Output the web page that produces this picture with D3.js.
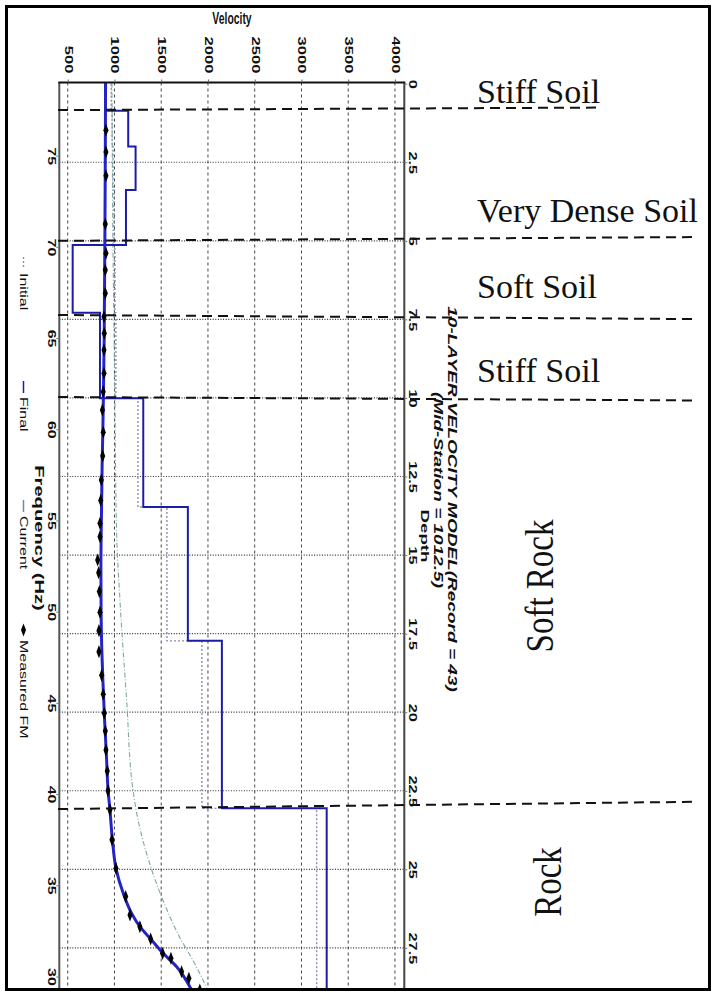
<!DOCTYPE html>
<html>
<head>
<meta charset="utf-8">
<script src="https://cdn.jsdelivr.net/npm/d3@7"></script>
<style>
  body { margin: 0; background: #fff; }
  svg { display: block; }
</style>
</head>
<body>
<svg id="chart" width="713" height="993"></svg>
<script>
// ---- axis ticks ----
const velocityTicks = [500, 1000, 1500, 2000, 2500, 3000, 3500, 4000];
const depthTicks = [0, 2.5, 5, 7.5, 10, 12.5, 15, 17.5, 20, 22.5, 25, 27.5];
const freqTicks = [75, 70, 65, 60, 55, 50, 45, 40, 35, 30];

// ---- 10-layer shear-wave velocity model (depth in m, velocity in m/s) ----
const layerTops = [0, 0.86, 2.0, 3.38, 5.13, 7.29, 10.01, 13.47, 17.73, 23.06];
const modelBottom = 28.84;
const finalVs = [900, 1147, 1226, 1123, 553, 845, 1308, 1785, 2149, 3270];
const initialVs = [965, 975, 985, 995, 1005, 1015, 1251, 1561, 1935, 3162];

// ---- measured fundamental-mode dispersion (Hz, m/s) ----
const measuredFreq = [76.4, 75.2, 73.9, 71.25, 69.65, 68.73, 67.46, 66.17, 65.26, 64.35, 63.07, 62.06,
  61.05, 59.84, 58.54, 57.22, 56.1, 54.85, 54.11, 52.83, 52.14, 51.1, 49.97, 48.96, 47.81, 46.51,
  45.47, 44.43, 43.46, 42.42, 41.27, 40.19, 39.14, 37.5, 35.93, 34.38, 33.37, 32.73, 32.06, 31.27,
  31.0, 30.26, 29.9, 29.26];
const measuredVel = [909, 909, 909, 902, 909, 902, 902, 888, 891, 888, 888, 880,
  871, 880, 874, 859, 853, 845, 845, 820, 831, 838, 845, 834, 834, 863,
  880, 891, 902, 909, 923, 931, 952, 973, 1016, 1120, 1166, 1272, 1387, 1515,
  1604, 1718, 1796, 1913];

// ---- dispersion curve of the final model ----
const finalCurveFreq = [79, 75, 70, 65, 62, 60, 58, 55, 52.5, 50, 48, 46, 44, 42, 40.2, 39.1, 37.5,
  35.93, 34.56, 33.46, 32.73, 32.0, 31.27, 30.54, 29.26];
const finalCurveVel = [905, 902, 897, 890, 882, 876, 868, 860, 855, 857, 864, 878, 895, 915, 932, 952, 978,
  1016, 1094, 1184, 1272, 1397, 1521, 1665, 1825];

// ---- dispersion curve of the current (starting) model ----
const currentCurveFreq = [79, 70.1, 61.6, 54.3, 50.6, 45.16, 40.23, 38.86, 36.5, 34.75, 33.93, 32.34, 30.8, 29.26];
const currentCurveVel = [973, 984, 1005, 1023, 1059, 1130, 1198, 1241, 1358, 1475, 1539, 1678, 1849, 1999];

// ---- interpreted boundaries (depth at left / right end) ----
const boundaryDepthLeft = [0.84, 5.0, 7.36, 9.97, 23.08];
const boundaryDepthRight = [0.76, 4.88, 7.49, 10.08, 22.85];
const boundaryEndX = [598, 697, 695, 698, 698];

const soilLabels = ["Stiff Soil", "Very Dense Soil", "Soft Soil", "Stiff Soil"];
const rockLabels = ["Soft Rock", "Rock"];

// ---- layout ----
const plot = { left: 59.3, right: 404.3, top: 82.5, bottom: 990 };
const STRETCH = 1.6;           // the figure is elongated along the page height
const SANS = "'Liberation Sans', Arial, sans-serif";
const SERIF = "'Liberation Serif', 'Times New Roman', serif";
const BLUE = "#1c1ca6";
const BLUE_CURVE = "#2424c4";
const TEAL = "#7aaaa2";
const INIT = "#8c8cb4";

const xV = d3.scaleLinear().domain([410, 4100]).range([plot.left, plot.right]);
const yD = d3.scaleLinear().domain([0, modelBottom]).range([83.7, plot.bottom]);
const yF = d3.scaleLinear().domain([79, 29.26]).range([82.7, plot.bottom]);

const svg = d3.select("#chart");
svg.append("rect").attr("width", 713).attr("height", 993).attr("fill", "#fff");

const defs = svg.append("defs");
defs.append("clipPath").attr("id", "plotClip")
  .append("rect")
  .attr("x", plot.left).attr("y", plot.top)
  .attr("width", plot.right - plot.left).attr("height", plot.bottom - plot.top);

// ---- grid ----
const grid = svg.append("g");
grid.selectAll("line.vgrid").data(velocityTicks).join("line")
  .attr("x1", d => xV(d)).attr("x2", d => xV(d))
  .attr("y1", plot.top).attr("y2", plot.bottom)
  .attr("stroke", "#444").attr("stroke-width", 1).attr("stroke-dasharray", "3,3");
grid.selectAll("line.hgrid").data(depthTicks.filter(d => d > 0)).join("line")
  .attr("x1", plot.left).attr("x2", plot.right)
  .attr("y1", d => yD(d)).attr("y2", d => yD(d))
  .attr("stroke", "#333").attr("stroke-width", 1.2).attr("stroke-dasharray", "1,1.6");

// ---- plot contents ----
const body = svg.append("g").attr("clip-path", "url(#plotClip)");

function stepPoints(vs) {
  const pts = [];
  vs.forEach((v, i) => {
    const top = layerTops[i];
    const bot = i + 1 < layerTops.length ? layerTops[i + 1] : modelBottom;
    pts.push([v, top], [v, bot]);
  });
  return pts;
}
const stepLine = d3.line().x(d => xV(d[0])).y(d => yD(d[1]));

body.append("path").attr("d", stepLine(stepPoints(initialVs)))
  .attr("fill", "none").attr("stroke", INIT).attr("stroke-width", 1.4).attr("stroke-dasharray", "2,2");

const curveLine = d3.line().x(d => xV(d[1])).y(d => yF(d[0])).curve(d3.curveMonotoneY);

body.append("path")
  .attr("d", curveLine(currentCurveFreq.map((f, i) => [f, currentCurveVel[i]])))
  .attr("fill", "none").attr("stroke", TEAL).attr("stroke-width", 1.1).attr("stroke-dasharray", "5,2,1,2");

body.append("path").attr("d", stepLine(stepPoints(finalVs)))
  .attr("fill", "none").attr("stroke", BLUE).attr("stroke-width", 2);

body.append("path")
  .attr("d", curveLine(finalCurveFreq.map((f, i) => [f, finalCurveVel[i]])))
  .attr("fill", "none").attr("stroke", BLUE_CURVE).attr("stroke-width", 3);

const diamond = d3.symbol(d3.symbolDiamond, 22);
body.selectAll("path.fm").data(measuredFreq.map((f, i) => [f, measuredVel[i]])).join("path")
  .attr("d", diamond)
  .attr("transform", d => `translate(${xV(d[1])},${yF(d[0])}) scale(1,1.5)`)
  .attr("fill", "#000");

// ---- frame ----
const frame = svg.append("g");
frame.append("line").attr("x1", plot.left).attr("x2", plot.left).attr("y1", plot.top).attr("y2", plot.bottom)
  .attr("stroke", "#555").attr("stroke-width", 2);
frame.append("line").attr("x1", plot.right).attr("x2", plot.right).attr("y1", plot.top).attr("y2", plot.bottom)
  .attr("stroke", "#444").attr("stroke-width", 2);
frame.append("line").attr("x1", plot.left - 1).attr("x2", plot.right + 1).attr("y1", plot.top).attr("y2", plot.top)
  .attr("stroke", "#111").attr("stroke-width", 2.2);

// ---- axes ----
function rotLabel(sel, size, weight) {
  sel.attr("font-family", SANS).attr("font-size", size).attr("font-weight", weight).attr("fill", "#111");
}

// velocity (top)
const axTop = svg.append("g").attr("transform", `translate(0,${plot.top})`)
  .call(d3.axisTop(xV).tickValues(velocityTicks).tickSize(3).tickFormat(d3.format("d")));
axTop.select(".domain").remove();
axTop.selectAll(".tick line").attr("stroke", "#666");
axTop.selectAll(".tick text")
  .attr("x", null).attr("y", null).attr("dy", "0.35em")
  .attr("text-anchor", "end")
  .attr("transform", `translate(0,-9) scale(1,${STRETCH}) rotate(90)`)
  .call(rotLabel, 10.4, "bold");

// depth (right)
const axRight = svg.append("g").attr("transform", `translate(${plot.right},0)`)
  .call(d3.axisRight(yD).tickValues(depthTicks).tickSize(3).tickFormat(d => String(d)));
axRight.select(".domain").remove();
axRight.selectAll(".tick line").attr("stroke", "#777");
axRight.selectAll(".tick text")
  .attr("x", null).attr("y", null).attr("dy", "0.35em")
  .attr("text-anchor", "middle")
  .attr("transform", `translate(8,0) scale(1,${STRETCH}) rotate(90)`)
  .call(rotLabel, 10.2, "bold");

// frequency (left)
const axLeft = svg.append("g").attr("transform", `translate(${plot.left},0)`)
  .call(d3.axisLeft(yF).tickValues(freqTicks).tickSize(3).tickFormat(d3.format("d")));
axLeft.select(".domain").remove();
axLeft.selectAll(".tick line").attr("stroke", "#777");
axLeft.selectAll(".tick text")
  .attr("x", null).attr("y", null).attr("dy", "0.35em")
  .attr("text-anchor", "middle")
  .attr("transform", `translate(-8,0) scale(1,${STRETCH}) rotate(90)`)
  .call(rotLabel, 10, "bold");

// ---- titles ----
function rotText(x, y, txt, size, weight, style, anchor) {
  return svg.append("text")
    .attr("transform", `translate(${x},${y}) scale(1,${STRETCH}) rotate(90)`)
    .attr("dy", "0.35em")
    .attr("text-anchor", anchor || "middle")
    .attr("font-family", SANS).attr("font-size", size)
    .attr("font-weight", weight).attr("font-style", style || "normal")
    .attr("fill", "#111").text(txt);
}

svg.append("text")
  .attr("transform", `translate(232,24) scale(1,${STRETCH})`)
  .attr("text-anchor", "middle")
  .attr("font-family", SANS).attr("font-size", 10.4).attr("font-weight", "bold")
  .attr("fill", "#111").text("Velocity");

rotText(452, 499, "10-LAYER VELOCITY MODEL(Record = 43)", 11.9, "bold", "italic");
rotText(438, 490, "(Mid-Station = 1012.5)", 11.9, "bold", "italic");
rotText(425, 536, "Depth", 11.7, "bold");
rotText(39, 538, "Frequency (Hz)", 12.6, "bold");

// ---- legend ----
const legend = [
  { label: "Initial", y: 257, kind: "init" },
  { label: "Final", y: 381, kind: "final" },
  { label: "Current", y: 500, kind: "current" },
  { label: "Measured FM", y: 626, kind: "fm" }
];
const LX = 23.5;
legend.forEach(d => {
  if (d.kind === "fm") {
    svg.append("path").attr("d", diamond)
      .attr("transform", `translate(${LX},${d.y + 4}) scale(1,1.5)`).attr("fill", "#000");
  } else {
    const stroke = d.kind === "init" ? INIT : d.kind === "final" ? BLUE : TEAL;
    svg.append("line").attr("x1", LX).attr("x2", LX).attr("y1", d.y).attr("y2", d.y + 12)
      .attr("stroke", d.kind === "current" ? "#6a8ab0" : stroke)
      .attr("stroke-width", d.kind === "init" ? 1.4 : 1.5)
      .attr("stroke-dasharray", d.kind === "init" ? "2,2" : null);
  }
  rotText(LX, d.y + (d.kind === "fm" ? 14 : 16), d.label, 10, "normal", "normal", "start");
});

// ---- interpreted boundaries ----
const ann = svg.append("g");
boundaryDepthLeft.forEach((dl, i) => {
  ann.append("line")
    .attr("x1", 58).attr("y1", yD(dl))
    .attr("x2", boundaryEndX[i]).attr("y2", yD(boundaryDepthRight[i]))
    .attr("stroke", "#111").attr("stroke-width", 2).attr("stroke-dasharray", "10,6");
});

const soilY = [103, 222, 298, 382];
soilLabels.forEach((t, i) => {
  ann.append("text").attr("x", 477).attr("y", soilY[i])
    .attr("font-family", SERIF).attr("font-size", 34).attr("fill", "#111").text(t);
});
const rockPos = [[553, 586], [561, 882]];
rockLabels.forEach((t, i) => {
  ann.append("text")
    .attr("transform", `translate(${rockPos[i][0]},${rockPos[i][1]}) rotate(-90) scale(1,1.2)`)
    .attr("text-anchor", "middle")
    .attr("font-family", SERIF).attr("font-size", 33).attr("fill", "#111").text(t);
});

// ---- outer border ----
svg.append("rect").attr("x", 6.5).attr("y", 6.5).attr("width", 703).attr("height", 983)
  .attr("fill", "none").attr("stroke", "#000").attr("stroke-width", 3);
</script>
</body>
</html>
